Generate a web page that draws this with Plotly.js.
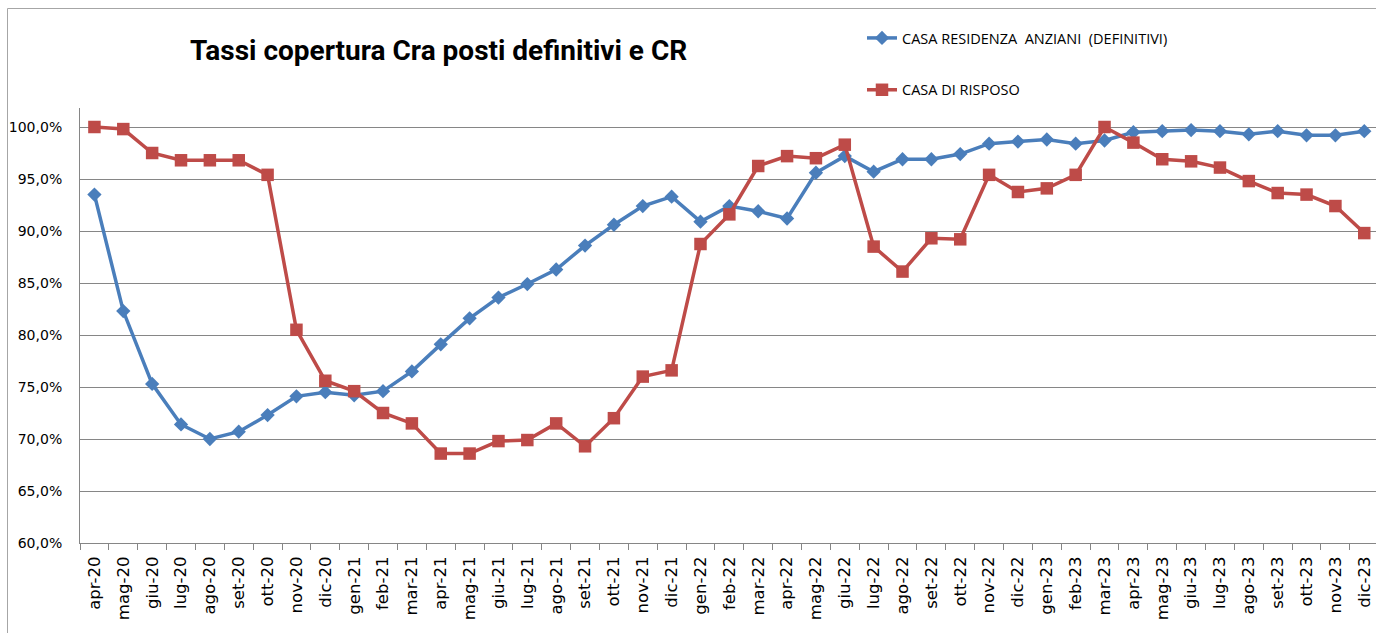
<!DOCTYPE html>
<html>
<head>
<meta charset="utf-8">
<script src="https://cdn.plot.ly/plotly-3.0.1.min.js"></script>
<style>
html,body{margin:0;padding:0;background:#fff;}
#chart{width:1376px;height:633px;}
</style>
</head>
<body>
<div id="chart"></div>
<script>
const months = ["apr-20","mag-20","giu-20","lug-20","ago-20","set-20","ott-20","nov-20","dic-20",
"gen-21","feb-21","mar-21","apr-21","mag-21","giu-21","lug-21","ago-21","set-21","ott-21","nov-21","dic-21",
"gen-22","feb-22","mar-22","apr-22","mag-22","giu-22","lug-22","ago-22","set-22","ott-22","nov-22","dic-22",
"gen-23","feb-23","mar-23","apr-23","mag-23","giu-23","lug-23","ago-23","set-23","ott-23","nov-23","dic-23"];

const craDefinitivi = [93.5,82.3,75.3,71.4,70.0,70.7,72.3,74.1,74.5,
74.2,74.6,76.5,79.1,81.6,83.6,84.9,86.3,88.6,90.6,92.4,93.3,
90.9,92.4,91.9,91.2,95.6,97.2,95.7,96.9,96.9,97.4,98.4,98.6,
98.8,98.4,98.7,99.5,99.6,99.7,99.6,99.3,99.6,99.2,99.2,99.6];

const casaRiposo = [100.0,99.8,97.5,96.8,96.8,96.8,95.4,80.5,75.6,
74.6,72.5,71.5,68.6,68.6,69.8,69.9,71.5,69.3,72.0,76.0,76.6,
88.75,91.6,96.25,97.2,97.0,98.3,88.5,86.1,89.3,89.2,95.4,93.75,
94.1,95.4,100.0,98.5,96.9,96.7,96.1,94.8,93.65,93.5,92.4,89.8];

const seriesNames = ["CASA RESIDENZA  ANZIANI  (DEFINITIVI)", "CASA DI RISPOSO"];
const titleText = "Tassi copertura Cra posti definitivi e CR";

const traces = [
  {x: months, y: craDefinitivi, name: seriesNames[0], type: "scatter", mode: "lines+markers",
   line: {color: "#4A7EBB", width: 3.5}, marker: {symbol: "diamond", size: 11, color: "#4A7EBB"},
   legendgroup: "a"},
  {x: months, y: casaRiposo, name: seriesNames[1], type: "scatter", mode: "lines+markers",
   line: {color: "#BE4B48", width: 3.5}, marker: {symbol: "square", size: 12.5, color: "#BE4B48"},
   legendgroup: "b"}
];

const layout = {
  width: 1376, height: 633,
  margin: {l: 80, r: 0, t: 108, b: 90, pad: 0},
  paper_bgcolor: "#fff", plot_bgcolor: "#fff",
  separators: ",.",
  showlegend: true,
  title: {text: "<b>" + titleText + "</b>", font: {family: "Roboto, sans-serif", size: 28, color: "#000"},
          x: 190/1376, xanchor: "left", y: 1 - 50/633, yanchor: "middle"},
  legend: {x: (862-80)/1296, xanchor: "left", y: (543-22)/435, yanchor: "top",
           font: {family: "Open Sans, sans-serif", size: 14.5, color: "#000"},
           tracegroupgap: 30, bgcolor: "rgba(0,0,0,0)", itemwidth: 30},
  xaxis: {type: "category", range: [-0.5, -0.5 + 1296/28.86], showgrid: false,
          tickson: "boundaries", ticks: "outside", ticklen: 6, tickcolor: "#868686",
          showline: true, linecolor: "#868686", linewidth: 1, tickangle: -90, ticklabelstandoff: 6,
          tickfont: {family: "DejaVu Sans, sans-serif", size: 16.5, color: "#000"}, fixedrange: true},
  yaxis: {range: [60, 60 + 435/10.4], tick0: 60, dtick: 5, tickformat: ".1f", ticksuffix: "%",
          showgrid: true, gridcolor: "#868686", gridwidth: 1, zeroline: false,
          showline: true, linecolor: "#868686", linewidth: 1, ticks: "", ticklabelstandoff: 14,
          tickfont: {family: "DejaVu Sans, sans-serif", size: 14, color: "#000"}, fixedrange: true},
  shapes: [{type: "rect", xref: "paper", yref: "paper",
            x0: (7.5-80)/1296, x1: 1.2, y0: -0.5, y1: (543-8.5)/435,
            line: {color: "#A6A6A6", width: 1}, fillcolor: "rgba(0,0,0,0)", layer: "below"}]
};

Plotly.newPlot("chart", traces, layout, {displayModeBar: false, staticPlot: true});
</script>
</body>
</html>
